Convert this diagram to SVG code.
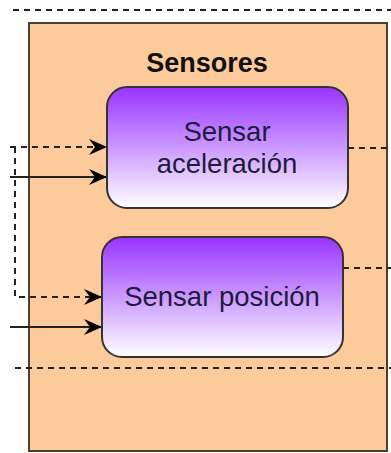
<svg xmlns="http://www.w3.org/2000/svg" width="391" height="453" viewBox="0 0 391 453">
  <style>
    .container { fill: #FDCB9B; stroke: #4a4038; stroke-width: 2; }
    .node { stroke: #333333; stroke-width: 2; fill: url(#purpleGrad); }
    .title { font-family: "Liberation Sans", Arial, sans-serif; font-size: 27px; font-weight: bold; fill: #111111; text-anchor: middle; }
    .label { font-family: "Liberation Sans", Arial, sans-serif; font-size: 27.5px; fill: #1c1c3c; text-anchor: middle; }
    .dash { fill: none; stroke: #222222; stroke-width: 2; stroke-dasharray: 6 5; }
    .solid { fill: none; stroke: #222222; stroke-width: 2; }
  </style>
  <defs>
    <linearGradient id="purpleGrad" x1="0" y1="0" x2="0" y2="1">
      <stop offset="0" stop-color="#9933FF"/>
      <stop offset="1" stop-color="#FFFFFF"/>
    </linearGradient>
    <marker id="arrow" viewBox="0 0 18 16" refX="17" refY="8" markerWidth="18" markerHeight="16" markerUnits="userSpaceOnUse" orient="auto">
      <path d="M0,0 L18,8 L0,16 L6,8 Z" fill="#000000"/>
    </marker>
  </defs>

  <g id="container-sensores">
    <rect class="container" x="29" y="23" width="358" height="428"/>
    <text class="title" x="207" y="72">Sensores</text>
  </g>

  <g id="connectors">
    <path class="dash" d="M13,10 H391" stroke="#555555"/>
    <path class="dash" d="M10,147 H106" marker-end="url(#arrow)"/>
    <path class="dash" d="M15,147 V297 H101" marker-end="url(#arrow)"/>
    <path class="solid" d="M10,177 H106" marker-end="url(#arrow)"/>
    <path class="solid" d="M10,327 H101" marker-end="url(#arrow)"/>
    <path class="dash" d="M348,148 H391"/>
    <path class="dash" d="M343,268 H391"/>
    <path class="dash" d="M15,368 H391"/>
  </g>

  <g id="node-sensar-aceleracion">
    <rect class="node" x="107" y="87" width="241" height="121" rx="20" ry="20"/>
    <text class="label" x="227" y="141">Sensar</text>
    <text class="label" x="227" y="173">aceleración</text>
  </g>

  <g id="node-sensar-posicion">
    <rect class="node" x="102" y="237" width="241" height="120" rx="20" ry="20"/>
    <text class="label" x="222" y="306">Sensar posición</text>
  </g>
</svg>
